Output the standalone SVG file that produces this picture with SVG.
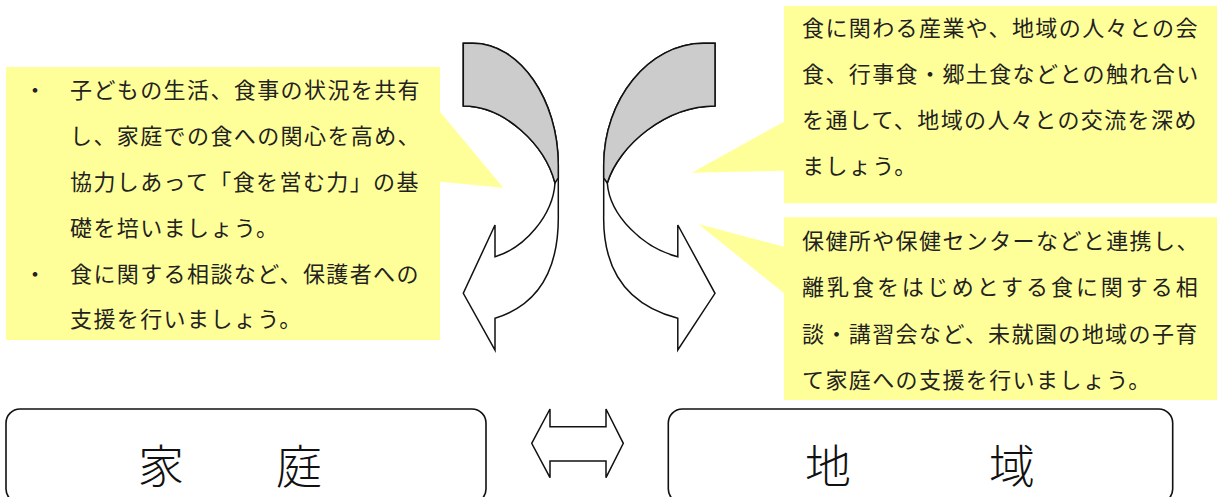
<svg xmlns="http://www.w3.org/2000/svg" width="1217" height="497" viewBox="0 0 1217 497">
<style>
.callout{fill:#FFFF99;stroke:none}
.txt{font-family:"Noto Sans CJK JP","Noto Sans CJK SC",sans-serif;font-size:22px;letter-spacing:1.4px;fill:#222}
.big{font-family:"Noto Sans CJK JP","Noto Sans CJK SC",sans-serif;font-size:46px;font-weight:300;fill:#111}
.box{fill:#fff;stroke:#111;stroke-width:1.6}
.arr{fill:#fff;stroke:#111;stroke-width:1.5;stroke-linejoin:miter}
.back{fill:#CCCCCC;stroke:#111;stroke-width:1.5}
</style>
<rect width="1217" height="497" fill="#fff"/>
<g id="node-left-callout">
<path class="callout" d="M6,67 H440 V111.7 L503.3,187.7 L440,181.7 V340 H6 Z"/>
<text class="txt" x="24" y="97.5">・</text>
<text class="txt" x="70" y="97.5">子どもの生活、食事の状況を共有</text>
<text class="txt" x="70" y="143.5">し、家庭での食への関心を高め、</text>
<text class="txt" x="70" y="189.5">協力しあって「食を営む力」の基</text>
<text class="txt" x="70" y="235.5">礎を培いましょう。</text>
<text class="txt" x="24" y="281.5">・</text>
<text class="txt" x="70" y="281.5">食に関する相談など、保護者への</text>
<text class="txt" x="70" y="326.5">支援を行いましょう。</text>
</g>
<g id="node-right-top-callout">
<path class="callout" d="M784,6 H1217 V203.3 H784 V170.7 L691.7,172.7 L784,121.7 Z"/>
<text class="txt" x="802" y="36">食に関わる産業や、地域の人々との会</text>
<text class="txt" x="802" y="82">食、行事食・郷土食などとの触れ合い</text>
<text class="txt" x="802" y="128">を通して、地域の人々との交流を深め</text>
<text class="txt" x="802" y="174">ましょう。</text>
</g>
<g id="node-right-bottom-callout">
<path class="callout" d="M784,217.3 H1217 V400 H784 V293.3 L698.3,224 L784,246.7 Z"/>
<text class="txt" x="802" y="248.5">保健所や保健センターなどと連携し、</text>
<text class="txt" x="802" y="294.5" style="letter-spacing:2.96px">離乳食をはじめとする食に関する相</text>
<text class="txt" x="802" y="341.5">談・講習会など、未就園の地域の子育</text>
<text class="txt" x="802" y="387.5">て家庭への支援を行いましょう。</text>
</g>
<g id="node-home">
<rect class="box" x="6" y="409" width="480" height="94" rx="14" ry="14"/>
<text class="big" x="138" y="483">家　　庭</text>
</g>
<g id="node-community">
<rect class="box" x="668.3" y="409" width="504.4" height="94" rx="14" ry="14"/>
<text class="big" x="805" y="483">地　　　域</text>
</g>
<g id="connectors">
<g id="curved-arrow-left">
<path class="arr" d="M463.3,43.3 L473,43.3 C520,43.3 558.3,100 558.3,165 L558.3,215 C559,270 538,305 495,318.3 L495,350 L463.3,293.3 L495,225 L495,256.7 C525,248 553,215 555,183 C545,145 505,106 463.3,106 Z"/>
<path class="back" d="M463.3,43.3 L473,43.3 C520,43.3 558.3,100 558.3,165 L558.3,178 L555,183 C545,145 505,106 463.3,106 Z"/>
</g>
<g id="curved-arrow-right">
<path class="arr" d="M715,43.3 L703.6,43.3 C648.4,43.3 603.7,100 603.7,165 L603.7,215 C602.6,270 627.2,305 677.8,318.3 L677.8,350 L715,293.3 L677.8,225 L677.8,256.7 C642.5,248 609.6,215 607.3,183 C619,145 666,106 715,106 Z"/>
<path class="back" d="M715,43.3 L703.6,43.3 C648.4,43.3 603.7,100 603.7,165 L603.7,178 L607.3,183 C619,145 666,106 715,106 Z"/>
</g>
<path id="double-arrow" class="arr" d="M531.7,443.3 L550,409 L550,426.7 L606,426.7 L606,409 L623.3,443.3 L606,477.7 L606,461 L550,461 L550,477.7 Z"/>
</g>
</svg>
